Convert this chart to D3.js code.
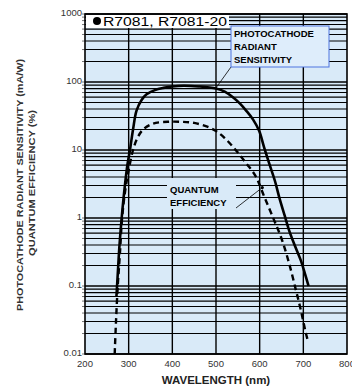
<!DOCTYPE html>
<html>
<head>
<meta charset="utf-8">
<script src="https://cdn.jsdelivr.net/npm/d3@7"></script>
<style>
  html, body { margin: 0; padding: 0; background: #fff; }
  svg { display: block; }
</style>
</head>
<body>
<svg id="chart" width="352" height="388"></svg>
<script>
(function() {

  // Photocathode radiant sensitivity (mA/W)
  const sensWave = [272, 275, 279, 284, 290, 297, 303, 310, 318, 330, 341, 360, 380, 400, 426, 460, 500, 520, 538, 555, 569, 585, 599, 610, 622, 635, 645, 657, 667, 680, 694, 704, 712];
  const sensValue = [0.07, 0.15, 0.4, 1, 2.5, 6, 10, 20, 38, 55, 66, 76, 82, 86, 88, 86, 80, 72, 60, 48, 38, 28, 19, 11, 6.3, 3.5, 2.0, 1.1, 0.67, 0.4, 0.24, 0.15, 0.10];

  // Quantum efficiency (%)
  const qeWave = [268, 271, 275, 280, 285, 292, 300, 310, 320, 333, 356, 390, 420, 450, 480, 500, 520, 545, 569, 591, 610, 633, 650, 667, 683, 694, 706, 710];
  const qeValue = [0.01, 0.03, 0.1, 0.3, 1, 2.5, 5, 10, 15, 20, 24.5, 26, 26, 25, 22, 19, 15, 10, 6.4, 4.1, 2.1, 0.93, 0.5, 0.22, 0.087, 0.045, 0.02, 0.016];

  const xTicks = [200, 300, 400, 500, 600, 700, 800];
  const yTicks = [0.01, 0.1, 1, 10, 100, 1000];
  const yTickLabels = ["0.01", "0.1", "1", "10", "100", "1000"];

  const INK = "#000";
  const PANEL = "#d9eaf8";
  const FONT = "'Liberation Sans Narrow', 'Liberation Sans', Arial, sans-serif";

  const plot = { left: 85, right: 347, top: 14, bottom: 354 };

  const x = d3.scaleLinear().domain([200, 800]).range([plot.left, plot.right]);
  const y = d3.scaleLog().domain([0.01, 1000]).range([plot.bottom, plot.top]);

  const svg = d3.select("#chart");

  svg.append("rect")
    .attr("x", plot.left).attr("y", plot.top)
    .attr("width", plot.right - plot.left).attr("height", plot.bottom - plot.top)
    .attr("fill", PANEL);

  // log grid: decades + 2..9 minors
  const minor = [];
  for (let e = -2; e < 3; e++) {
    for (let k = 2; k <= 9; k++) minor.push(k * Math.pow(10, e));
  }
  const gridG = svg.append("g");
  minor.forEach(v => {
    gridG.append("line")
      .attr("x1", plot.left).attr("x2", plot.right)
      .attr("y1", y(v)).attr("y2", y(v))
      .attr("stroke", INK).attr("stroke-width", 1.1);
  });
  yTicks.forEach(v => {
    gridG.append("line")
      .attr("x1", plot.left).attr("x2", plot.right)
      .attr("y1", y(v)).attr("y2", y(v))
      .attr("stroke", INK).attr("stroke-width", 1.6);
  });
  xTicks.slice(1, -1).forEach(v => {
    gridG.append("line")
      .attr("x1", x(v)).attr("x2", x(v))
      .attr("y1", plot.top).attr("y2", plot.bottom)
      .attr("stroke", INK).attr("stroke-width", 1.4);
  });

  // small outside ticks on the left
  minor.concat(yTicks).forEach(v => {
    svg.append("line")
      .attr("x1", plot.left - 3).attr("x2", plot.left)
      .attr("y1", y(v)).attr("y2", y(v))
      .attr("stroke", "#555").attr("stroke-width", 0.8);
  });

  // title box top-left
  svg.append("rect")
    .attr("x", plot.left + 1).attr("y", plot.top + 1)
    .attr("width", 143).attr("height", 13)
    .attr("fill", "#fff");
  svg.append("circle")
    .attr("cx", 97).attr("cy", 21).attr("r", 4)
    .attr("fill", INK);
  svg.append("text")
    .attr("x", 103).attr("y", 26)
    .attr("font-family", "'Liberation Sans', Arial, sans-serif")
    .attr("font-size", 12.5)
    .attr("textLength", 124).attr("lengthAdjust", "spacingAndGlyphs")
    .attr("fill", INK)
    .text("R7081, R7081-20");

  // QE label backdrop (covers grid)
  svg.append("rect")
    .attr("x", 167).attr("y", 178)
    .attr("width", 69).attr("height", 31)
    .attr("fill", PANEL);

  // curves
  const line = d3.line()
    .x(d => x(d[0]))
    .y(d => y(d[1]))
    .curve(d3.curveCatmullRom.alpha(0.5));

  svg.append("path")
    .datum(qeWave.map((w, i) => [w, qeValue[i]]))
    .attr("d", line)
    .attr("fill", "none")
    .attr("stroke", INK)
    .attr("stroke-width", 2.4)
    .attr("stroke-dasharray", "6,4");

  svg.append("path")
    .datum(sensWave.map((w, i) => [w, sensValue[i]]))
    .attr("d", line)
    .attr("fill", "none")
    .attr("stroke", INK)
    .attr("stroke-width", 2.6);

  // plot frame
  svg.append("rect")
    .attr("x", plot.left).attr("y", plot.top)
    .attr("width", plot.right - plot.left).attr("height", plot.bottom - plot.top)
    .attr("fill", "none")
    .attr("stroke", INK).attr("stroke-width", 1.6);

  // radiant sensitivity callout
  svg.append("line")
    .attr("x1", 231).attr("y1", 67)
    .attr("x2", x(500)).attr("y2", y(82))
    .attr("stroke", INK).attr("stroke-width", 0.8);
  svg.append("rect")
    .attr("x", 231).attr("y", 26)
    .attr("width", 98).attr("height", 41)
    .attr("fill", "#deedfb")
    .attr("stroke", "#4f74e0").attr("stroke-width", 1);
  ["PHOTOCATHODE", "RADIANT", "SENSITIVITY"].forEach((t, i) => {
    svg.append("text")
      .attr("x", 234).attr("y", 37 + i * 13)
      .attr("font-family", FONT)
      .attr("font-size", 9.5).attr("font-weight", "bold")
      .attr("fill", INK)
      .text(t);
  });

  // quantum efficiency callout
  ["QUANTUM", "EFFICIENCY"].forEach((t, i) => {
    svg.append("text")
      .attr("x", 170).attr("y", 193 + i * 13)
      .attr("font-family", FONT)
      .attr("font-size", 9.5).attr("font-weight", "bold")
      .attr("fill", INK)
      .text(t);
  });
  svg.append("line")
    .attr("x1", 236).attr("y1", 208)
    .attr("x2", x(606)).attr("y2", y(2.8))
    .attr("stroke", INK).attr("stroke-width", 0.8);
  svg.append("circle")
    .attr("cx", x(606)).attr("cy", y(2.8)).attr("r", 1.6)
    .attr("fill", INK);

  // tick labels
  yTicks.forEach((v, i) => {
    svg.append("text")
      .attr("x", 82).attr("y", y(v) + 2)
      .attr("text-anchor", "end")
      .attr("font-family", FONT)
      .attr("font-size", 9.5)
      .attr("fill", "#333")
      .text(yTickLabels[i]);
  });
  xTicks.forEach(v => {
    svg.append("text")
      .attr("x", x(v)).attr("y", 367)
      .attr("text-anchor", "middle")
      .attr("font-family", FONT)
      .attr("font-size", 9.5)
      .attr("fill", "#333")
      .text(v);
  });

  // axis titles
  svg.append("text")
    .attr("x", 216).attr("y", 384)
    .attr("text-anchor", "middle")
    .attr("font-family", "'Liberation Sans', Arial, sans-serif")
    .attr("font-size", 11.5).attr("font-weight", "bold")
    .attr("fill", "#222")
    .text("WAVELENGTH (nm)");

  svg.append("text")
    .attr("transform", "translate(23,185) rotate(-90)")
    .attr("text-anchor", "middle")
    .attr("font-family", FONT)
    .attr("font-size", 9.5).attr("font-weight", "bold")
    .attr("textLength", 252).attr("lengthAdjust", "spacingAndGlyphs")
    .attr("fill", "#333")
    .text("PHOTOCATHODE RADIANT SENSITIVITY (mA/W)");
  svg.append("text")
    .attr("transform", "translate(35,183) rotate(-90)")
    .attr("text-anchor", "middle")
    .attr("font-family", FONT)
    .attr("font-size", 9.5).attr("font-weight", "bold")
    .attr("textLength", 146).attr("lengthAdjust", "spacingAndGlyphs")
    .attr("fill", "#333")
    .text("QUANTUM EFFICIENCY (%)");

})();
</script>
</body>
</html>
